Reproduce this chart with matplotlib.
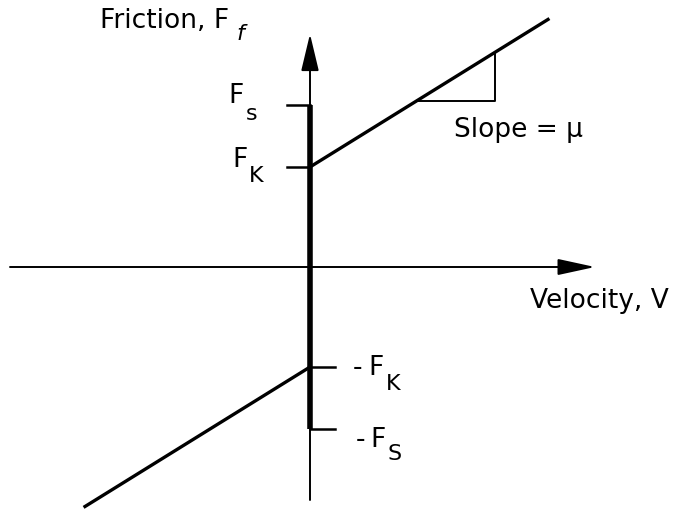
import matplotlib
matplotlib.use("Agg")
import matplotlib.pyplot as plt
import numpy as np

# ---- data (arbitrary units, Fk = 1) ----
F_k = 1.0
F_s = 1.62
mu = 0.62
v_pos_end = 2.38      # extent of positive-velocity friction line
v_neg_end = -2.25     # extent of negative-velocity friction line
tri_v = [1.07, 1.85]  # slope triangle span
v_axis = [-3.0, 2.80]
f_axis = [-2.33, 2.29]

fig = plt.figure(figsize=(6.85, 5.12), dpi=100)
ax = fig.add_axes([0, 0, 1, 1])
ax.set_xlim(-3.10, 3.75)
ax.set_ylim(-2.45, 2.67)
ax.axis("off")

k = "black"
# horizontal axis with arrow
ax.annotate("", xy=(v_axis[1] + 0.05, 0), xytext=(v_axis[0], 0),
            arrowprops=dict(arrowstyle="-|>,head_length=2.3,head_width=0.5",
                            mutation_scale=10, lw=1.4, color=k, shrinkA=0, shrinkB=0))
# vertical axis with arrow
ax.annotate("", xy=(0, f_axis[1] + 0.04), xytext=(0, f_axis[0]),
            arrowprops=dict(arrowstyle="-|>,head_length=2.3,head_width=0.55",
                            mutation_scale=10, lw=1.4, color=k, shrinkA=0, shrinkB=0))
# thick segment between -Fs and Fs (static friction range)
ax.plot([0, 0], [-F_s, F_s], color=k, lw=4, solid_capstyle="butt")

# friction lines
vp = np.array([0, v_pos_end])
ax.plot(vp, F_k + mu * vp, color=k, lw=2.4)
vn = np.array([v_neg_end, 0])
ax.plot(vn, -F_k + mu * vn, color=k, lw=2.4)

# ticks
tick_len = 0.23
ax.plot([-tick_len, 0], [F_s, F_s], color=k, lw=1.8)
ax.plot([-tick_len, 0], [F_k, F_k], color=k, lw=1.8)
ax.plot([0, tick_len + 0.02], [-F_k, -F_k], color=k, lw=1.8)
ax.plot([0, tick_len + 0.02], [-F_s, -F_s], color=k, lw=1.8)

# slope triangle
y0 = F_k + mu * tri_v[0]
y1 = F_k + mu * tri_v[1]
ax.plot([tri_v[0], tri_v[1], tri_v[1]], [y0, y0, y1], color=k, lw=1.4)

fs = 19
fsub = 16
tk = dict(color=k, fontsize=fs, family="DejaVu Sans", va="baseline")
ts = dict(color=k, fontsize=fsub, family="DejaVu Sans", va="baseline")

ax.text(-2.10, 2.39, "Friction, F", ha="left", **tk)
ax.text(-0.74, 2.27, "f", ha="left", style="italic", **ts)

ax.text(-0.82, 1.64, "F", ha="left", **tk)
ax.text(-0.64, 1.47, "s", ha="left", **ts)
ax.text(-0.78, 1.00, "F", ha="left", **tk)
ax.text(-0.61, 0.85, "K", ha="left", **ts)

ax.text(0.43, -1.08, "-", ha="left", **tk)
ax.text(0.58, -1.08, "F", ha="left", **tk)
ax.text(0.76, -1.23, "K", ha="left", **ts)
ax.text(0.46, -1.80, "-", ha="left", **tk)
ax.text(0.60, -1.80, "F", ha="left", **tk)
ax.text(0.77, -1.93, "S", ha="left", **ts)

ax.text(2.08, 1.30, "Slope = \u03bc", ha="center", **tk)
ax.text(2.20, -0.41, "Velocity, V", ha="left", **tk)

fig.savefig("out.png", dpi=100, facecolor="white")
